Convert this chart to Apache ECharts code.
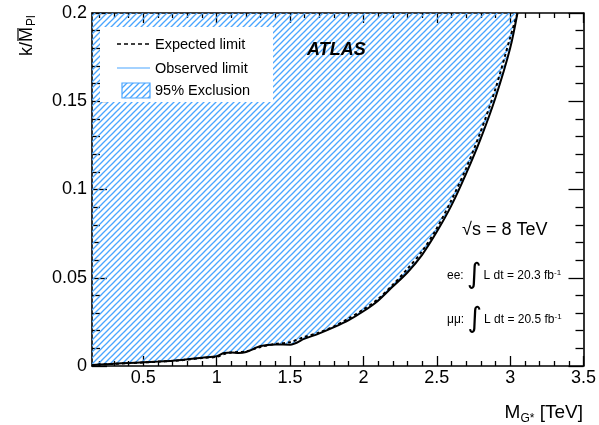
<!DOCTYPE html>
<html><head><meta charset="utf-8">
<script src="https://cdn.jsdelivr.net/npm/echarts@6/dist/echarts.min.js"></script>
<style>html,body{margin:0;padding:0;background:#fff}#c{width:599px;height:425px}</style>
</head><body><div id="c"></div>
<script>
// ---- data ----
const massTeV = [0.15,0.2,0.3,0.4,0.5,0.6,0.7,0.8,0.9,1.0,1.05,1.1,1.15,1.2,1.3,1.4,1.5,1.6,1.7,1.8,1.9,2.0,2.1,2.2,2.3,2.4,2.5,2.6,2.7,2.8,2.9,3.0,3.05];
const observedLimit = [0.0005,0.0008,0.0013,0.0017,0.0021,0.0025,0.003,0.0038,0.0047,0.0055,0.0074,0.0076,0.0073,0.0079,0.0113,0.0122,0.0121,0.0155,0.0185,0.022,0.026,0.031,0.037,0.045,0.053,0.063,0.076,0.091,0.109,0.129,0.152,0.180,0.2];
const expectedLimit = [0.0005,0.0008,0.0012,0.0016,0.002,0.0024,0.0029,0.0036,0.0045,0.0052,0.0068,0.0077,0.0079,0.0083,0.0108,0.0125,0.0135,0.0165,0.019,0.0225,0.027,0.032,0.038,0.046,0.055,0.065,0.078,0.094,0.112,0.133,0.157,0.186,0.2];
const xMajorTicks = [0.5,1,1.5,2,2.5,3,3.5];
const xMinorTicks = [0.2,0.3,0.4,0.6,0.7,0.8,0.9,1.1,1.2,1.3,1.4,1.6,1.7,1.8,1.9,2.1,2.2,2.3,2.4,2.6,2.7,2.8,2.9,3.1,3.2,3.3,3.4];
const yMajorTicks = [0,0.05,0.1,0.15,0.2];
const yMinorTicks = [0.01,0.02,0.03,0.04,0.06,0.07,0.08,0.09,0.11,0.12,0.13,0.14,0.16,0.17,0.18,0.19];
const legendLabels = ['Expected limit','Observed limit','95% Exclusion'];

// ---- styling ----
const FONT = 'Liberation Sans, Arial, Helvetica, sans-serif';
const HATCH = '#4aa6ff';
const X_MIN = 0.15, X_MAX = 3.5, Y_MIN = 0, Y_MAX = 0.2;

function makeHatch(){
  const w = 6, h = 6;
  const c = document.createElement('canvas');
  c.width = w; c.height = h;
  const g = c.getContext('2d');
  g.strokeStyle = HATCH; g.lineWidth = 1.3;
  for (let k = 0; k <= 2; k++) {
    g.beginPath();
    g.moveTo((k + 1) * w, -h);
    g.lineTo(-w, (k + 1) * h);
    g.stroke();
  }
  return c;
}
const hatch = { image: makeHatch(), repeat: 'repeat' };

function xAxisDef(pos, ticks, len, labels, line){
  return {
    type: 'value', min: X_MIN, max: X_MAX, position: pos,
    axisLine: { show: line, onZero: false, lineStyle: { color: '#000', width: 1.6 } },
    axisTick: { show: true, inside: true, length: len, customValues: ticks, lineStyle: { color: '#000', width: 1.3 } },
    axisLabel: labels ? { show: true, customValues: ticks, color: '#000', fontSize: 18, fontFamily: FONT, margin: 3 } : { show: false },
    splitLine: { show: false }
  };
}
function yAxisDef(pos, ticks, len, labels, line){
  return {
    type: 'value', min: Y_MIN, max: Y_MAX, position: pos,
    axisLine: { show: line, onZero: false, lineStyle: { color: '#000', width: 1.6 } },
    axisTick: { show: true, inside: true, length: len, customValues: ticks, lineStyle: { color: '#000', width: 1.3 } },
    axisLabel: labels ? { show: true, customValues: ticks, color: '#000', fontSize: 18, fontFamily: FONT, margin: 5 } : { show: false },
    splitLine: { show: false }
  };
}

const lumiRich = {
  t: { fontSize: 12, fontFamily: FONT, fill: '#000' },
  i: { fontSize: 28, fontFamily: 'DejaVu Sans', fill: '#000', padding: [0, 2, 0, 0] },
  p: { fontSize: 8, fontFamily: FONT, fill: '#000', padding: [0, 0, 7, 0] }
};

const chart = echarts.init(document.getElementById('c'), null, { renderer: 'canvas' });
chart.setOption({
  animation: false,
  backgroundColor: '#fff',
  grid: { left: 92, top: 13, right: 15, bottom: 59, containLabel: false },
  xAxis: [
    xAxisDef('bottom', xMajorTicks, 10, true, true),
    xAxisDef('bottom', xMinorTicks, 5, false, false),
    xAxisDef('top', xMajorTicks, 10, false, true),
    xAxisDef('top', xMinorTicks, 5, false, false)
  ],
  yAxis: [
    yAxisDef('left', yMajorTicks, 15, true, true),
    yAxisDef('left', yMinorTicks, 8, false, false),
    yAxisDef('right', yMajorTicks, 15, false, true),
    yAxisDef('right', yMinorTicks, 8, false, false)
  ],
  series: [
    {
      name: legendLabels[2], type: 'line', xAxisIndex: 0, yAxisIndex: 0,
      data: massTeV.map((m, i) => [m, observedLimit[i]]),
      showSymbol: false, smooth: 0.3, z: 1,
      lineStyle: { width: 0, opacity: 0 },
      areaStyle: { color: hatch, origin: 'end', opacity: 1 }
    },
    {
      name: legendLabels[1], type: 'line', xAxisIndex: 0, yAxisIndex: 0,
      data: massTeV.map((m, i) => [m, observedLimit[i]]),
      showSymbol: false, smooth: 0.3, z: 3,
      lineStyle: { color: '#000', width: 2 }
    },
    {
      name: legendLabels[0], type: 'line', xAxisIndex: 0, yAxisIndex: 0,
      data: massTeV.map((m, i) => [m, expectedLimit[i]]),
      showSymbol: false, smooth: 0.3, z: 4,
      lineStyle: { color: '#000', width: 2, type: [3, 3] }
    }
  ],
  graphic: [
    // legend box
    { type: 'rect', z: 10, shape: { x: 100, y: 27, width: 173, height: 75 }, style: { fill: '#fff' } },
    { type: 'line', z: 11, shape: { x1: 117, y1: 44, x2: 150, y2: 44 }, style: { stroke: '#000', lineWidth: 1.5, lineDash: [4, 3] } },
    { type: 'text', z: 11, x: 155, y: 45, style: { text: legendLabels[0], fill: '#000', font: '14.5px ' + FONT, textVerticalAlign: 'middle' } },
    { type: 'line', z: 11, shape: { x1: 117, y1: 68, x2: 150, y2: 68 }, style: { stroke: HATCH, lineWidth: 1.2 } },
    { type: 'text', z: 11, x: 155, y: 69, style: { text: legendLabels[1], fill: '#000', font: '14.5px ' + FONT, textVerticalAlign: 'middle' } },
    { type: 'rect', z: 11, shape: { x: 122, y: 83, width: 28, height: 15 }, style: { fill: hatch, stroke: HATCH, lineWidth: 1.2 } },
    { type: 'text', z: 11, x: 155, y: 91, style: { text: legendLabels[2], fill: '#000', font: '14.5px ' + FONT, textVerticalAlign: 'middle' } },
    // ATLAS
    { type: 'text', z: 11, x: 307, y: 50, style: { text: 'ATLAS', fill: '#000', font: 'italic bold 18px ' + FONT, textVerticalAlign: 'middle' } },
    // sqrt(s)
    { type: 'text', z: 11, x: 462, y: 230, style: { text: '\u221As = 8 TeV', fill: '#000', font: '18px ' + FONT, textVerticalAlign: 'middle' } },
    // luminosities
    { type: 'text', z: 11, x: 447, y: 276, style: {
        text: '{t|ee: }{i|\u222B}{t|L dt = 20.3 fb}{p|-1}', textVerticalAlign: 'middle', rich: lumiRich } },
    { type: 'text', z: 11, x: 447, y: 320, style: {
        text: '{t|\u03BC\u03BC: }{i|\u222B}{t|L dt = 20.5 fb}{p|-1}', textVerticalAlign: 'middle', rich: lumiRich } },
    // x title
    { type: 'text', z: 11, x: 583, y: 413, style: {
        text: '{m|M}{s|G*}{m| [TeV]}', textAlign: 'right', textVerticalAlign: 'middle',
        rich: {
          m: { fontSize: 19, fontFamily: FONT, fill: '#000' },
          s: { fontSize: 12, fontFamily: FONT, fill: '#000', padding: [11, 0, 0, 0] }
        } } },
    // y title: k / M-bar _Pl, rotated to read bottom-to-top
    { type: 'group', z: 11, x: 27, y: 34, rotation: Math.PI / 2, children: [
        { type: 'text', z: 11, x: -22, y: 0, style: { text: 'k/', fill: '#000', font: '18px ' + FONT, textVerticalAlign: 'middle' } },
        { type: 'text', z: 11, x: -8, y: 0, style: { text: 'M', fill: '#000', font: '18px ' + FONT, textVerticalAlign: 'middle' } },
        { type: 'line', z: 11, shape: { x1: -7, y1: -9, x2: 6, y2: -9 }, style: { stroke: '#000', lineWidth: 1.2 } },
        { type: 'text', z: 11, x: 8, y: 5, style: { text: 'Pl', fill: '#000', font: '12px ' + FONT, textVerticalAlign: 'middle' } }
    ] }
  ]
});
</script></body></html>
